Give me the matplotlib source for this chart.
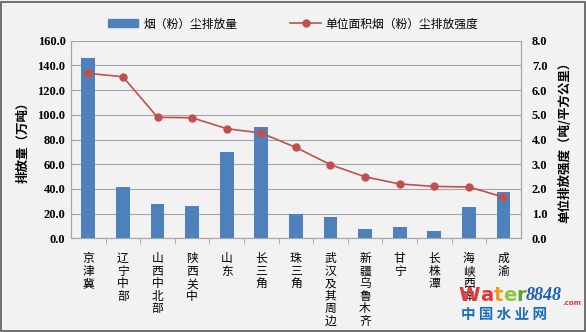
import matplotlib
matplotlib.use("Agg")
import numpy as np
import matplotlib.pyplot as plt
from matplotlib.patches import Rectangle
from matplotlib.lines import Line2D
from matplotlib.patches import Patch

plt.rcParams["font.family"] = ["Noto Sans CJK SC", "DejaVu Sans"]

regions = ["京津冀", "辽宁中部", "山西中北部", "陕西关中", "山东", "长三角", "珠三角",
           "武汉及其周边", "新疆乌鲁木齐", "甘宁", "长株潭", "海峡西岸", "成渝"]
emissions = [146.2, 41.8, 27.5, 26.4, 69.6, 89.9, 19.7, 17.0, 7.3, 9.1, 5.7, 25.3, 37.5]
intensity = [6.68, 6.54, 4.90, 4.88, 4.44, 4.26, 3.68, 2.98, 2.49, 2.20, 2.10, 2.08, 1.67]

bar_color = "#4f81bd"
line_color = "#c0504d"
bg = "#f2f2f2"
grid_color = "#a6a6a6"

fig = plt.figure(figsize=(5.86, 3.32), dpi=100, facecolor=bg)
ax = fig.add_axes([0.1212, 0.2822, 0.7674, 0.5952])
ax.set_facecolor(bg)
x = np.arange(len(regions))

ax.bar(x, emissions, width=0.4, color=bar_color, zorder=3)
ax.set_xlim(-0.5, len(regions) - 0.5)
ax.set_ylim(0, 160)
ax.set_yticks(np.arange(0, 161, 20))
ax.set_yticklabels([f"{v:.1f}" for v in np.arange(0, 161, 20)],
                   fontfamily="Liberation Serif", fontsize=9, fontweight="bold")
ax.yaxis.grid(True, color=grid_color, linewidth=0.8, zorder=0)
ax.tick_params(axis="y", length=0, pad=4)

# category labels stacked vertically, ticks between categories
ax.set_xticks(x)
ax.set_xticklabels(["\n".join(r) for r in regions], fontsize=8.5, linespacing=0.95,
                   va="top")
ax.tick_params(axis="x", length=0, pad=10)
ax.set_xticks(np.arange(0.5, len(regions) - 0.5, 1), minor=True)
ax.tick_params(axis="x", which="minor", length=4, color=grid_color)

for side in ["left", "bottom", "right", "top"]:
    ax.spines[side].set_color(grid_color)
ax.spines["top"].set_visible(False)

ax.set_ylabel("排放量（万吨）", fontsize=9, fontweight="bold", labelpad=6)

ax2 = ax.twinx()
ax2.plot(x, intensity, color=line_color, linewidth=1.2, marker="o", markersize=5, zorder=4)
ax2.set_ylim(0, 8)
ax2.set_yticks(np.arange(0, 9, 1))
ax2.set_yticklabels([f"{v:.1f}" for v in np.arange(0, 9, 1)],
                    fontfamily="Liberation Serif", fontsize=9, fontweight="bold")
ax2.tick_params(axis="y", length=0, pad=8)
for side in ["left", "bottom", "right", "top"]:
    ax2.spines[side].set_color(grid_color)
ax2.spines["top"].set_visible(False)
ax2.set_ylabel("单位排放强度（吨/平方公里）", fontsize=9, fontweight="bold", labelpad=8)

handles = [Patch(color=bar_color),
           Line2D([0], [0], color=line_color, marker="o", markersize=5, linewidth=1.2)]
fig.legend(handles, ["烟（粉）尘排放量", "单位面积烟（粉）尘排放强度"],
           loc="center", bbox_to_anchor=(0.5, 0.928), ncol=2, frameon=False,
           fontsize=8.5, handlelength=2.6, columnspacing=4.5, handletextpad=0.4)

# site watermark, letters laid out one after another
renderer = fig.canvas.get_renderer()
inv = fig.transFigure.inverted()
pieces = [("W", "#e03a3a", 14, "normal", "DejaVu Sans", 0.11),
          ("a", "#e03a3a", 14, "normal", "DejaVu Sans", 0.11),
          ("t", "#f29a1a", 14, "normal", "DejaVu Sans", 0.11),
          ("e", "#8cc63f", 14, "normal", "DejaVu Sans", 0.11),
          ("r", "#5aaa2a", 14, "normal", "DejaVu Sans", 0.11),
          ("8848", "#1a5fb4", 13, "italic", "Liberation Serif", 0.11),
          (".com", "#e03a3a", 5, "normal", "DejaVu Sans", 0.088)]
xpos = 0.783
for ch, c, size, style, family, ypos in pieces:
    t = fig.text(xpos, ypos, ch, color=c, fontsize=size, fontweight="bold",
                 fontstyle=style, fontfamily=family, ha="left", va="center")
    bb = t.get_window_extent(renderer)
    xpos = inv.transform((bb.x1, 0))[0]
fig.text(0.787, 0.055, "中 国 水 业 网", color="#1a6fc4", fontsize=10.5, fontweight="bold",
         ha="left", va="center")

fig.patches.append(Rectangle((0.002, 0.004), 0.996, 0.99, transform=fig.transFigure,
                             fill=False, edgecolor="#595959", linewidth=1.2))

fig.savefig("out.png", dpi=100, facecolor=bg)
